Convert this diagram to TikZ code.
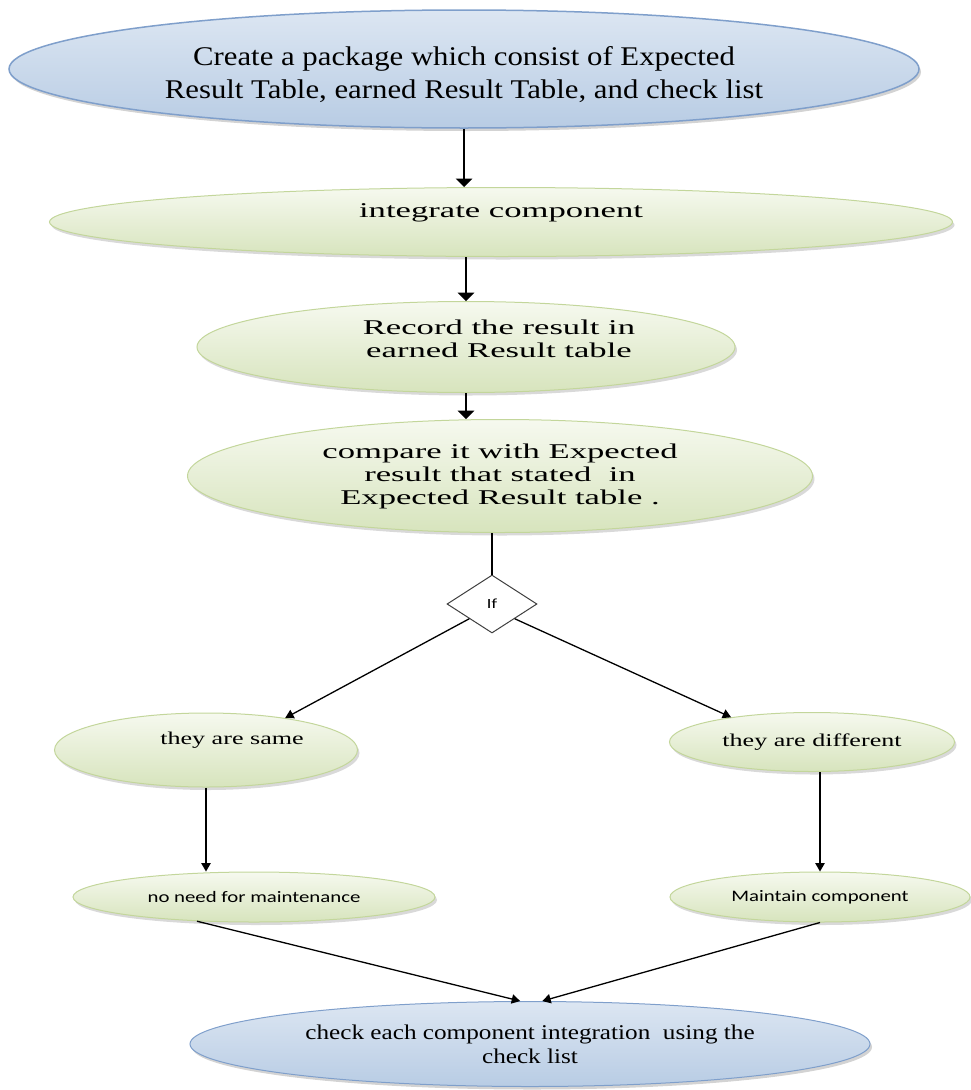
\documentclass[tikz,border=0pt]{standalone}
\usepackage{fontspec}
\setmainfont{Liberation Serif}
\newfontfamily\headfont[FakeStretch=1.14]{Liberation Serif}
\newfontfamily\stepfont[FakeStretch=1.65]{Liberation Serif}
\newfontfamily\casefont[FakeStretch=1.45]{Liberation Serif}
\newfontfamily\endfont[FakeStretch=1.2]{Liberation Serif}
\newfontfamily\smallsans[FakeStretch=1.3]{Carlito}
\usetikzlibrary{arrows,shapes.geometric,shadows}
\definecolor{bluetop}{HTML}{DCE6F2}
\definecolor{bluebot}{HTML}{B8CCE4}
\definecolor{blueline}{HTML}{7F9FCB}
\definecolor{greentop}{HTML}{F6F9EF}
\definecolor{greenbot}{HTML}{D7E4BD}
\definecolor{greenline}{HTML}{C3D69B}
\tikzset{
	blueoval/.style={ellipse,draw=blueline,line width=1.5pt,top color=bluetop,bottom color=bluebot,
		drop shadow={shadow xshift=2pt,shadow yshift=-3pt,opacity=0.35},inner sep=0pt,align=center},
	greenoval/.style={ellipse,draw=greenline,line width=1pt,top color=greentop,bottom color=greenbot,
		drop shadow={shadow xshift=2pt,shadow yshift=-3pt,opacity=0.3},inner sep=0pt,align=center},
	arr/.style={arrows={-triangle 90},line width=2pt},
	thinarr/.style={arrows={-triangle 60},line width=1.3pt},
}
\begin{document}
\begin{tikzpicture}[x=1pt,y=-1pt]
	\useasboundingbox (0,0) rectangle (970,1090);
	\node[blueoval,minimum width=910pt,minimum height=118pt,text height=64pt,font=\headfont\fontsize{27}{33}\selectfont] (pkg) at (464,69)
		{Create a package which consist of Expected\\Result Table, earned Result Table, and check list};
	\node[greenoval,minimum width=903pt,minimum height=69pt,text depth=23pt,font=\stepfont\fontsize{21}{24}\selectfont] (integ) at (501,222) {integrate component};
	% text sits right of the centre in the original
	\node[greenoval,minimum width=538pt,minimum height=91pt,text depth=16pt,font=\stepfont\fontsize{21}{23}\selectfont] (rec) at (466,347)
		{\hspace*{66pt}Record the result in\\\hspace*{66pt}earned Result table};
	\node[greenoval,minimum width=625pt,minimum height=113pt,font=\stepfont\fontsize{21}{23}\selectfont] (cmp) at (500,476)
		{compare it with Expected\\result that stated\ \ in\\Expected Result table\ .};
	\draw[arr] (pkg.south) -- (pkg.south |- integ.north);
	\draw[arr] (integ.south -| rec.north) -- (rec.north);
	\draw[arr] (rec.south) -- (rec.south |- cmp.north);

	\node[diamond,draw=black!75,line width=1pt,minimum width=90pt,minimum height=58pt,inner sep=0pt,
		font=\smallsans\fontsize{14}{16}\selectfont] (iff) at (492,604) {If};
	\draw[line width=2pt] (cmp.south -| iff.north) -- (iff.north);

	\node[greenoval,minimum width=303pt,minimum height=74pt,text depth=24pt,font=\casefont\fontsize{18}{20}\selectfont] (same) at (206,750)
		{\hspace*{52pt}they are same};
	\node[greenoval,minimum width=285pt,minimum height=59pt,font=\casefont\fontsize{18}{20}\selectfont] (diff) at (812,742) {they are different};
	\draw[thinarr] (iff.south west) -- (same.22);
	\draw[thinarr] (iff.south east) -- (diff.163);

	\node[greenoval,minimum width=362pt,minimum height=50pt,font=\smallsans\fontsize{16}{18}\selectfont] (noneed) at (254,897) {no need for maintenance};
	\node[greenoval,minimum width=300pt,minimum height=50pt,font=\smallsans\fontsize{16}{18}\selectfont] (mnt) at (820,897) {Maintain component};
	\draw[thinarr] (same.south) -- (same.south |- noneed.north);
	\draw[thinarr] (mnt.north |- diff.south) -- (mnt.north);

	\node[blueoval,line width=1pt,minimum width=680pt,minimum height=85pt,font=\endfont\fontsize{21}{24}\selectfont] (chk) at (530,1044)
		{check each component integration\ \ using the\\check list};
	\draw[thinarr] (noneed.203) -- (chk.103);
	\draw[thinarr] (mnt.south) -- (chk.74);
\end{tikzpicture}
\end{document}
